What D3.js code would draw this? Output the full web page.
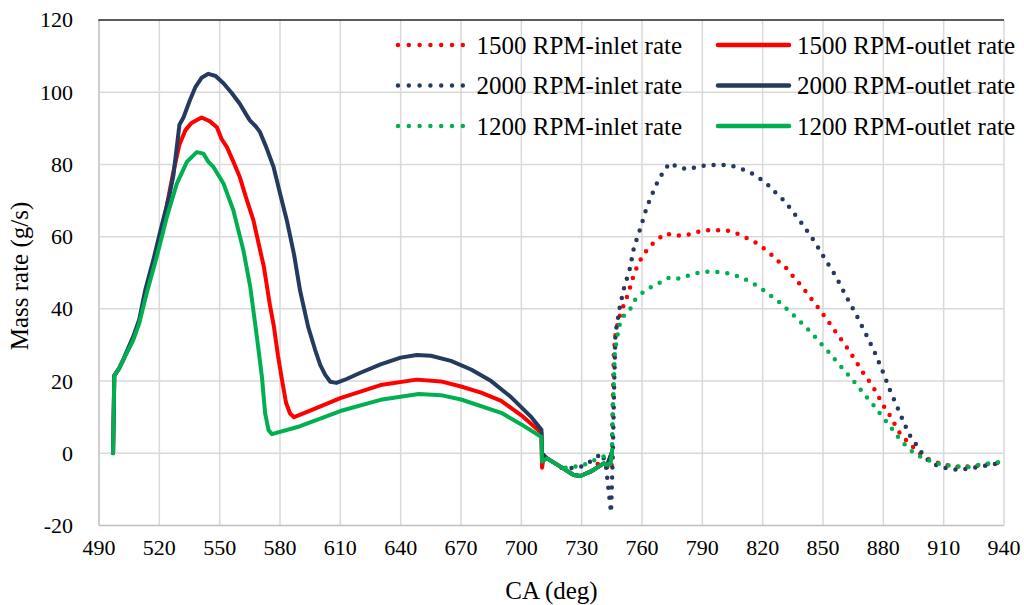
<!DOCTYPE html>
<html>
<head>
<meta charset="utf-8">
<script src="https://cdn.jsdelivr.net/npm/d3@7"></script>
<style>
  html, body { margin: 0; padding: 0; background: #fff; }
  text { font-family: "Liberation Serif", "Times New Roman", serif; fill: #000; }
</style>
</head>
<body>
<div id="chart"></div>
<script>
// axis ticks
const xTicks = [490, 520, 550, 580, 610, 640, 670, 700, 730, 760, 790, 820, 850, 880, 910, 940];
const yTicks = [-20, 0, 20, 40, 60, 80, 100, 120];

// [CA (deg), mass rate (g/s)]
const inlet1500 = [
  [738, -3], [742, -3.5], [744.8, -4.6], [745, -1], [745.5, 15], [746, 28], [747, 34], [749.3, 38.7],
  [753, 44], [756, 49.6], [758.1, 52.4], [760.6, 54.9], [763.6, 57.2], [767.6, 59.2], [771.9, 60.9],
  [776.3, 60.3], [781.5, 60.3], [786.5, 61.2], [791.6, 61.8], [797, 61.8], [802, 61.8], [807, 60.9],
  [811.7, 59.7], [816.4, 58.4], [820.7, 56.7], [824.8, 54.8], [828.5, 52.8], [832.3, 51], [835.6, 48.7],
  [839, 46.5], [842.4, 44.1], [845.4, 41.9], [848.7, 39.6], [851.7, 37.2], [854.7, 34.9], [857.7, 32.5],
  [860.8, 30.2], [863.7, 27.8], [866.6, 25.3], [869.3, 22.8], [872.3, 20.5], [875.3, 18], [877.8, 15.5],
  [880.4, 12.9], [883.2, 10.5], [885.7, 8], [888.7, 5.1], [893.3, 2.6], [897.8, 0], [903, -1.8],
  [910, -3.2], [918, -3.8], [925, -3.6], [932, -3], [940, -2.5]
];
const outlet1500 = [
  [497, 0], [497.6, 21.5], [500, 23.5], [502, 25.8], [507, 31.8], [510, 36.5], [513, 44], [515, 48],
  [518, 55], [520, 59.5], [523, 66.5], [527, 78], [530, 85.5], [533, 89.5], [536, 91.5], [541, 93],
  [545, 92], [548.6, 90.3], [551, 87], [553.6, 84.8], [557, 80.5], [560, 76.5], [563, 71], [566.8, 64.5],
  [570, 56.5], [572, 51.6], [575, 41], [577, 35], [579, 27], [581, 20.3], [583, 14], [585, 11],
  [587, 10], [595, 11.8], [610, 15.3], [630, 18.9], [648, 20.4], [660, 19.9], [670, 18.5], [680, 16.8],
  [690, 14.5], [700, 10.5], [710, 5.6], [710.3, -4], [711, -1.2], [712.8, -1.4], [719.4, -3.7],
  [726, -6], [729.4, -6.3], [734.4, -5.1], [741, -2.8], [742.7, -3.2], [745.1, 0.4]
];
const inlet2000 = [
  [720, -4], [722, -4], [727.6, -4.1], [732, -3.2], [735.2, -1.9], [740.2, 0], [742, -3.2], [744.6, -16.4],
  [745.5, 0], [746.2, 20], [746.8, 33.2], [749, 40.6], [751, 45.6], [754, 51.2], [756, 57], [759.3, 62.5],
  [762.3, 68], [764.3, 70.8], [768.4, 76], [773.7, 80.4], [778.3, 79.1], [783.3, 78.7], [788.5, 79.5],
  [793.6, 79.8], [799, 79.9], [804, 79.7], [809, 78.9], [814, 77.7], [818.3, 76.2], [822.5, 74.4],
  [826, 72.4], [830, 70.3], [833.5, 68], [839.3, 63.8], [845.6, 58.8], [851, 53.8], [856.5, 48.9],
  [861.3, 43.7], [866.3, 38.6], [871, 33.4], [875.6, 28.1], [879.6, 22.8], [883.4, 17.3], [887.4, 12.2],
  [891.7, 6.6], [894, 4.1], [897.8, 1.4], [900.3, -1.1], [905, -3], [912, -4.3], [918, -4.6],
  [925, -4], [932, -3.3], [940, -2.5]
];
const outlet2000 = [
  [497, 0], [497.6, 21.5], [500, 23.5], [502, 25.8], [507, 32.3], [510, 37], [513, 45.2], [517, 53.5],
  [521, 62.7], [523, 67], [525, 71.5], [527, 77], [528.5, 84], [530, 91], [532, 93], [535, 97.5],
  [538, 101.5], [541, 104], [544.4, 105.1], [548, 104.5], [552, 102.4], [556, 99.8], [560, 96.8],
  [563, 94], [565, 92.2], [568, 90.5], [570, 89], [573, 85], [576.8, 79.3], [580, 72], [583.4, 64.5],
  [587, 55], [590, 45], [594, 35], [597.5, 28.6], [600, 24.5], [602.5, 21.7], [605, 19.8], [608, 19.5],
  [612, 20.3], [620, 22.3], [630, 24.6], [640, 26.5], [648, 27.2], [655, 27], [665, 25.6], [675, 23.2],
  [685, 20], [695, 15.5], [705, 10], [710, 6.5], [710.3, 0], [712.8, -1.4], [719.4, -3.7], [726, -6],
  [729.4, -6.3], [734.4, -5.1], [741, -2.8], [742.7, -3.2], [745.1, 0.4]
];
const inlet1200 = [
  [722, -4], [730, -3.5], [736, -2], [741, -0.9], [744, -3], [745, -1], [745.5, 12], [746.5, 28],
  [748.5, 35], [750.5, 37.8], [754, 39.8], [756.3, 42.4], [760.1, 44.4], [764.4, 46], [768.9, 47.3],
  [773.7, 48.7], [778.5, 48.4], [783.5, 49.3], [788.5, 50.1], [793.6, 50.3], [799, 50.2], [804, 49.7],
  [809, 48.8], [813.9, 47.5], [818.2, 46.1], [822.5, 44.3], [826.7, 42.6], [830.6, 40.7], [834.5, 38.7],
  [838.3, 36.7], [842.1, 34.6], [845.6, 32.5], [848.9, 30.4], [852.4, 28.3], [855.9, 26], [859.3, 23.8],
  [862.6, 21.7], [866.1, 19.4], [869.3, 17.2], [872.6, 14.9], [876.1, 12.7], [879.2, 10.3], [882.6, 8.1],
  [885.6, 5.8], [888.7, 3.5], [894.5, 0.4], [900, -1.5], [908, -3], [915, -3.6], [922, -3.8],
  [930, -3], [937, -2.5], [940, -1]
];
const outlet1200 = [
  [497, 0], [497.6, 21.5], [500, 23.5], [502, 25.8], [507, 31.3], [510, 36], [513.7, 44.3], [518.7, 54.4],
  [523.7, 65.4], [528.7, 74.7], [533.7, 80.7], [538.6, 83.4], [541.9, 83], [544.4, 80.7], [546.9, 79.3],
  [551.9, 74.7], [556.8, 67.3], [561.8, 56.2], [565.2, 46.1], [568.5, 32.3], [571, 21.2], [572.6, 11.1],
  [574.3, 6.4], [576, 5.3], [590, 7.5], [610, 11.7], [630, 14.8], [649, 16.4], [660, 16.1], [670, 14.9],
  [690, 11.2], [700, 8], [710, 4.5], [710.3, -2.3], [712.8, -1.4], [719.4, -3.7], [726, -6],
  [729.4, -6.3], [734.4, -5.1], [741, -2.8], [742.7, -3.2], [744.5, -2.5], [745.1, 1]
];

const width = 1024, height = 605;
const margin = { left: 99, right: 20, top: 20, bottom: 79 };

const svg = d3.select("#chart").append("svg")
  .attr("width", width)
  .attr("height", height);

const x = d3.scaleLinear().domain([490, 940]).range([margin.left, 1004]);
const y = d3.scaleLinear().domain([-20, 120]).range([height - margin.bottom - 0.5 + 0.5 * 0 + 0, margin.top]);

// grid
svg.append("g").selectAll("line")
  .data(xTicks.slice(1))
  .join("line")
  .attr("x1", d => x(d)).attr("x2", d => x(d))
  .attr("y1", y(120)).attr("y2", y(-20))
  .attr("stroke", "#d9d9d9").attr("stroke-width", 1.5);

svg.append("g").selectAll("line")
  .data(yTicks.filter(d => d > -20 && d < 120))
  .join("line")
  .attr("x1", x(490)).attr("x2", x(940))
  .attr("y1", d => y(d)).attr("y2", d => y(d))
  .attr("stroke", "#d9d9d9").attr("stroke-width", 1.5);

// axes lines
svg.append("line")
  .attr("x1", x(490)).attr("x2", x(940))
  .attr("y1", y(-20)).attr("y2", y(-20))
  .attr("stroke", "#bfbfbf").attr("stroke-width", 1.5);
svg.append("line")
  .attr("x1", x(490)).attr("x2", x(490))
  .attr("y1", y(120)).attr("y2", y(-20))
  .attr("stroke", "#bfbfbf").attr("stroke-width", 1.5);
svg.append("line")
  .attr("x1", x(490) - 0.75).attr("x2", x(940))
  .attr("y1", y(120)).attr("y2", y(120))
  .attr("stroke", "#262626").attr("stroke-width", 1.5);

// tick labels
svg.append("g").selectAll("text")
  .data(yTicks)
  .join("text")
  .attr("x", 73)
  .attr("y", d => y(d))
  .attr("dy", "0.34em")
  .attr("text-anchor", "end")
  .attr("font-size", 22)
  .text(d => d);

svg.append("g").selectAll("text")
  .data(xTicks)
  .join("text")
  .attr("x", d => x(d))
  .attr("y", 555)
  .attr("text-anchor", "middle")
  .attr("font-size", 22)
  .text(d => d);

svg.append("text")
  .attr("x", (x(490) + x(940)) / 2)
  .attr("y", 599)
  .attr("text-anchor", "middle")
  .attr("font-size", 25)
  .text("CA (deg)");

svg.append("text")
  .attr("transform", "translate(28,276) rotate(-90)")
  .attr("text-anchor", "middle")
  .attr("font-size", 25)
  .text("Mass rate (g/s)");

// series
const red = "#ff0000", navy = "#243a5e", green = "#00b050";
const series = [
  { name: "1500 RPM-inlet rate", data: inlet1500, color: red, dotted: true },
  { name: "1500 RPM-outlet rate", data: outlet1500, color: red, dotted: false },
  { name: "2000 RPM-inlet rate", data: inlet2000, color: navy, dotted: true },
  { name: "2000 RPM-outlet rate", data: outlet2000, color: navy, dotted: false },
  { name: "1200 RPM-inlet rate", data: inlet1200, color: green, dotted: true },
  { name: "1200 RPM-outlet rate", data: outlet1200, color: green, dotted: false }
];

const line = d3.line()
  .x(d => x(d[0]))
  .y(d => y(d[1]));

svg.append("g").selectAll("path")
  .data(series)
  .join("path")
  .attr("d", d => line(d.data))
  .attr("fill", "none")
  .attr("stroke", d => d.color)
  .attr("stroke-width", d => d.dotted ? 4.5 : 4)
  .attr("stroke-linecap", "round")
  .attr("stroke-linejoin", "round")
  .attr("stroke-dasharray", d => d.dotted ? "0 10" : null);

// legend, 2 columns x 3 rows
const legend = svg.append("g").selectAll("g")
  .data(series)
  .join("g")
  .attr("transform", (d, i) => {
    const col = i % 2, row = Math.floor(i / 2);
    return `translate(${col === 0 ? 398 : 718},${45 + row * 40.5})`;
  });

legend.append("line")
  .attr("x1", 0)
  .attr("x2", d => d.dotted ? 66 : 71)
  .attr("stroke", d => d.color)
  .attr("stroke-width", d => d.dotted ? 4.5 : 4.5)
  .attr("stroke-linecap", "round")
  .attr("stroke-dasharray", d => d.dotted ? "0 10.8" : null);

legend.append("text")
  .attr("x", d => d.dotted ? 78.5 : 79)
  .attr("dy", "0.34em")
  .attr("font-size", 25)
  .text(d => d.name);
</script>
</body>
</html>
